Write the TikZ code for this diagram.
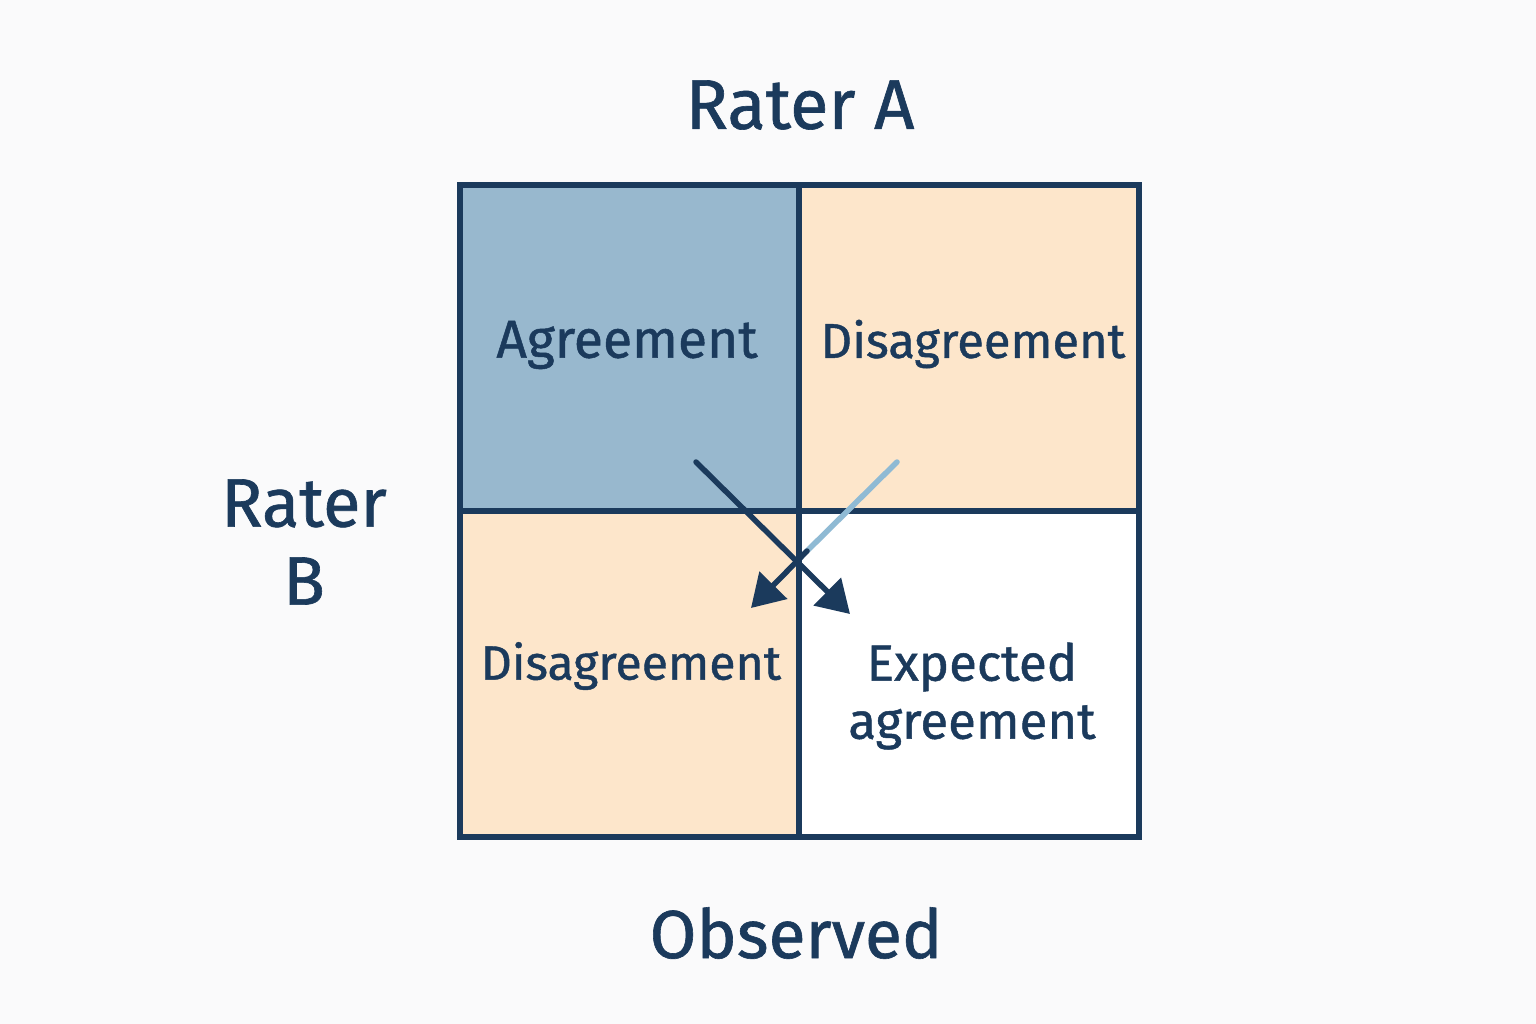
\documentclass[tikz,border=0pt]{standalone}
\usepackage{fontspec}
\setmainfont{Fira Sans}[FakeBold=0.9]
\usetikzlibrary{arrows.meta}
\definecolor{navy}{HTML}{1B3A5C}
\definecolor{cellblue}{HTML}{98B8CE}
\definecolor{peach}{HTML}{FDE6CB}
\definecolor{lightarrow}{HTML}{8FBAD4}
\definecolor{bg}{HTML}{FAFAFB}
\tikzset{
  cell/.style={draw=none, minimum width=3.35cm, minimum height=3.23cm, inner sep=0pt, anchor=north west},
  celltext/.style={text=navy, align=center},
  title/.style={text=navy, align=center},
  grid/.style={draw=navy, line width=0.06cm},
  darrow/.style={draw=navy, line width=0.055cm, line cap=round, -{Triangle[width=0.38cm,length=0.32cm]}},
}
\begin{document}
\begin{tikzpicture}[x=0.01cm,y=-0.01cm]
\fill[bg] (0,0) rectangle (1536,1024);
\useasboundingbox (0,0) rectangle (1536,1024);
% cells
\node[cell, fill=cellblue] (c11) at (462,187) {};
\node[cell, fill=peach] (c12) at (801,187) {};
\node[cell, fill=peach] (c21) at (462,513) {};
\node[cell, fill=white] (c22) at (801,513) {};
% grid
\draw[grid] (460,185) rectangle (1139,837);
\draw[grid] (799,185) -- (799,837);
\draw[grid] (460,511) -- (1139,511);
% texts
\node[celltext, font=\fontsize{15.2pt}{19pt}\selectfont] (t11) at (627,345) {Agreement};
\node[celltext, font=\fontsize{13.9pt}{17pt}\selectfont] (t12) at (973,344) {Disagreement};
\node[celltext, font=\fontsize{13.7pt}{17pt}\selectfont] (t21) at (631,666) {Disagreement};
\node[celltext, font=\fontsize{14.5pt}{0.58cm}\selectfont] (t22) at (972,696) {Expected\\agreement};
\node[title, font=\fontsize{20pt}{26pt}\selectfont] (ra) at (800,105) {Rater A};
\node[title, font=\fontsize{19.5pt}{0.78cm}\selectfont] (rb) at (304,542) {Rater\\B};
\node[title, font=\fontsize{19.3pt}{26pt}\selectfont] (obs) at (796,933) {Observed};
% arrows
\coordinate (a1s) at (696,462);
\coordinate (a1e) at (850,614);
\coordinate (a2s) at (897,462);
\coordinate (a2m) at (807,551);
\coordinate (a2e) at (751,608);
\draw[lightarrow, line width=0.055cm, line cap=round] (a2s) -- (a2m);
\draw[darrow] (a2m) -- (a2e);
\draw[darrow] (a1s) -- (a1e);
\end{tikzpicture}
\end{document}
